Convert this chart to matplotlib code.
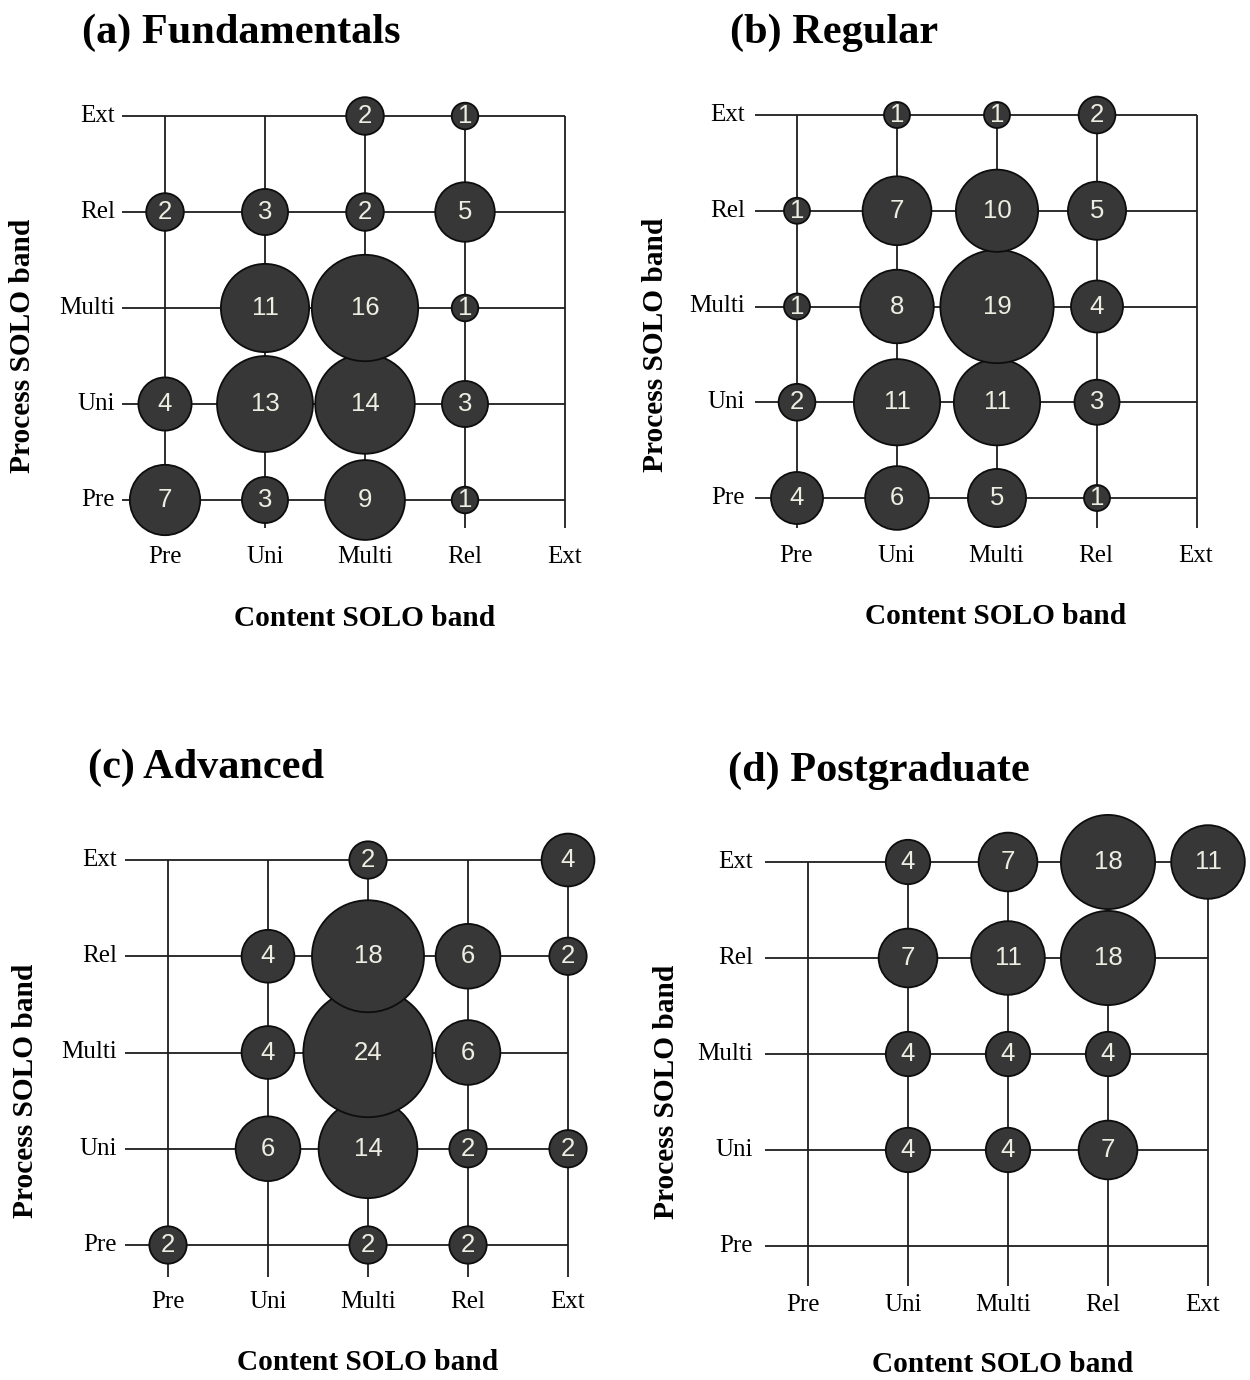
import matplotlib
matplotlib.use("Agg")
import matplotlib.pyplot as plt
from matplotlib.patches import Ellipse
import numpy as np

W, H = 1250, 1380

# SOLO bands, from lowest to highest
bands = ["Pre", "Uni", "Multi", "Rel", "Ext"]

# counts[row = process band][col = content band], 0 = no circle
fundamentals = [
    [7, 3, 9, 1, 0],     # Pre
    [4, 13, 14, 3, 0],   # Uni
    [0, 11, 16, 1, 0],   # Multi
    [2, 3, 2, 5, 0],     # Rel
    [0, 0, 2, 1, 0],     # Ext
]
regular = [
    [4, 6, 5, 1, 0],
    [2, 11, 11, 3, 0],
    [1, 8, 19, 4, 0],
    [1, 7, 10, 5, 0],
    [0, 1, 1, 2, 0],
]
advanced = [
    [2, 0, 2, 2, 0],
    [0, 6, 14, 2, 2],
    [0, 4, 24, 6, 0],
    [0, 4, 18, 6, 2],
    [0, 0, 2, 0, 4],
]
postgraduate = [
    [0, 0, 0, 0, 0],
    [0, 4, 4, 7, 0],
    [0, 4, 4, 4, 0],
    [0, 7, 11, 18, 0],
    [0, 4, 7, 18, 11],
]

titles = ["(a) Fundamentals", "(b) Regular", "(c) Advanced", "(d) Postgraduate"]
panels = [fundamentals, regular, advanced, postgraduate]

# layout per panel (pixels): first column x, Pre row y, column step, row step,
# circle scale (px per sqrt(count)), left end of rows, lower end of columns,
# tick label offsets, title position
layout = [
    dict(x0=165, y0=500, dx=100, dy=96.0, k=13.3, hl=43, vb=28, ylr=50, xty=57, xsh=0, title=(82, 33)),
    dict(x0=797, y0=498, dx=100, dy=95.75, k=13.0, hl=42, vb=30, ylr=52, xty=58, xsh=-1, title=(730, 33)),
    dict(x0=168, y0=1245, dx=100, dy=96.25, k=13.2, hl=43, vb=32, ylr=51, xty=57, xsh=0, title=(88, 768)),
    dict(x0=808, y0=1246, dx=100, dy=96.0, k=11.1, hl=43, vb=40, ylr=55, xty=59, xsh=-5, title=(728, 771)),
]

SERIF = ["Liberation Serif", "DejaVu Serif"]
SANS = ["Liberation Sans", "DejaVu Sans"]
LINE = "#1e1e1e"
FILL = "#373737"
NUM = "#eeede2"

fig = plt.figure(figsize=(W / 100, H / 100), dpi=100)

for counts, title, L in zip(panels, titles, layout):
    x0, y0, dx, dy = L["x0"], L["y0"], L["dx"], L["dy"]
    left, right = -1.6, 4.9
    bottom, top = -1.4, 4.7
    ax = fig.add_axes([(x0 + left * dx) / W, 1 - (y0 - bottom * dy) / H,
                       (right - left) * dx / W, (top - bottom) * dy / H])
    ax.set_xlim(left, right)
    ax.set_ylim(bottom, top)
    ax.axis("off")

    n = len(bands)
    hl = L["hl"] / dx
    vb = L["vb"] / dy
    # grid lines
    for i in range(n):
        ax.plot([-hl, n - 1], [i, i], color=LINE, lw=1.3, zorder=1, solid_capstyle="butt")
        ax.plot([i, i], [-vb, n - 1], color=LINE, lw=1.3, zorder=1, solid_capstyle="butt")

    # circles, upper rows drawn on top
    for r in range(n):
        for c in range(n):
            v = counts[r][c]
            if v == 0:
                continue
            rad = L["k"] * np.sqrt(v)
            e = Ellipse((c, r), 2 * rad / dx, 2 * rad / dy, facecolor=FILL,
                        edgecolor="#0d0d0d", lw=1.3, zorder=2 + r)
            ax.add_patch(e)
            ax.text(c, r, str(v), ha="center", va="center", color=NUM,
                    fontsize=18.5, family=SANS, zorder=2 + r)

    # tick labels
    sh = L["xsh"] / dx
    for i, b in enumerate(bands):
        ax.text(-L["ylr"] / dx, i, b, ha="right", va="center",
                fontsize=18, family=SERIF, clip_on=False)
        ax.text(i + sh, -L["xty"] / dy, b, ha="center", va="center",
                fontsize=18, family=SERIF, clip_on=False)

    ax.text(2 + sh, -118 / dy, "Content SOLO band", ha="center", va="center",
            fontsize=21.2, fontweight="bold", family=SERIF, clip_on=False)
    ax.text(-142 / dx, 2 - 38 / dy, "Process SOLO band", ha="center", va="center",
            rotation=90, fontsize=21.2, fontweight="bold", family=SERIF, clip_on=False)

    tx, ty = L["title"]
    fig.text(tx / W, 1 - ty / H, title, ha="left", va="center",
             fontsize=30.4, fontweight="bold", family=SERIF)

fig.savefig("out.png", dpi=100, facecolor="white")
